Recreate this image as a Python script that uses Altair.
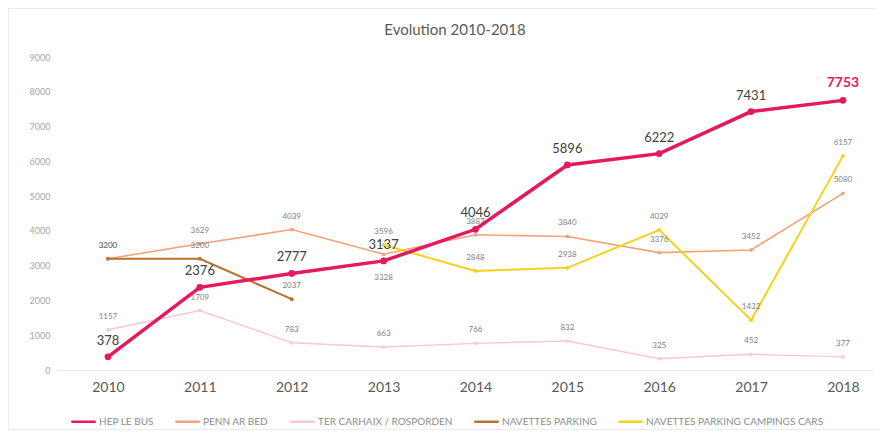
import altair as alt
import pandas as pd

years = [2010, 2011, 2012, 2013, 2014, 2015, 2016, 2017, 2018]
series_names = ["HEP LE BUS", "PENN AR BED", "TER CARHAIX / ROSPORDEN",
                "NAVETTES PARKING", "NAVETTES PARKING CAMPINGS CARS"]
hep = [378, 2376, 2777, 3137, 4046, 5896, 6222, 7431, 7753]
penn = [3200, 3629, 4039, 3328, 3887, 3840, 3376, 3452, 5080]
ter = [1157, 1709, 783, 663, 766, 832, 325, 452, 377]
navettes = [3200, 3200, 2037, None, None, None, None, None, None]
campings = [None, None, None, 3596, 2848, 2938, 4029, 1432, 6157]
title_text = "Evolution 2010-2018"
colors = ["#E6185E", "#F2A27C", "#F8C8D4", "#B8702E", "#F5D21A"]
widths = [3.5, 1.6, 1.4, 2, 2]

values = [hep, penn, ter, navettes, campings]
rows = []
for name, vals in zip(series_names, values):
    for y, v in zip(years, vals):
        if v is not None:
            rows.append({"year": y, "value": v, "series": name})
df = pd.DataFrame(rows)

x_scale = alt.Scale(domain=[2009.456, 2018.327], nice=False, zero=False)
y_scale = alt.Scale(domain=[0, 9000], nice=False)
color_scale = alt.Scale(domain=series_names, range=colors)

legend = alt.Legend(
    orient="none", legendX=12, legendY=351, direction="horizontal",
    title=None, symbolType="stroke", symbolSize=600, symbolStrokeWidth=2.5,
    labelFontSize=10, labelColor="#8C8C8C", labelFont="Lato", labelLimit=300,
    columnPadding=16, labelOffset=2, values=series_names,
)
color_enc = alt.Color("series:N", scale=color_scale, legend=legend)

base = alt.Chart(df)

layers = []
# border of the chart and the title
deco = alt.Chart(pd.DataFrame({"t": [title_text]}))
layers.append(
    deco.mark_rect(fill=None, stroke="#D9D9D9", strokeWidth=1)
    .encode(x=alt.value(-50), x2=alt.value(821), y=alt.value(-49), y2=alt.value(373))
)
layers.append(
    deco.mark_text(fontSize=15, color="#595959", font="Lato", baseline="middle")
    .encode(x=alt.value(397), y=alt.value(-27), text="t:N")
)

x_enc = alt.X("year:Q", scale=x_scale, axis=alt.Axis(
    values=years, format="d", title=None, labelFontSize=14, labelColor="#595959",
    labelFont="Lato", ticks=False, domainColor="#E6E6E6", grid=False, labelPadding=10,
    labelOverlap=False))
y_enc = alt.Y("value:Q", scale=y_scale, axis=alt.Axis(
    values=list(range(0, 9001, 1000)), format="d", title=None, labelFontSize=9,
    labelColor="#A6A6A6", labelFont="Lato", ticks=False, domain=False, grid=False,
    labelPadding=8, labelOverlap=False))

draw_order = [2, 1, 3, 4, 0]
for i in draw_order:
    name = series_names[i]
    sub = base.transform_filter(alt.datum.series == name)
    line = sub.mark_line(strokeWidth=widths[i]).encode(x=x_enc, y=y_enc, color=color_enc)
    pts = sub.mark_point(filled=True, size=(45 if i == 0 else 14), opacity=1).encode(
        x=x_enc, y=y_enc, color=color_enc)
    layers += [line, pts]

# value labels
hep_df = df[df.series == "HEP LE BUS"]
lab_hep = alt.Chart(hep_df[hep_df.year < 2018]).mark_text(
    dy=-16, fontSize=13, color="#404040", font="Lato").encode(
    x=x_enc, y=y_enc, text="value:Q")
lab_last = alt.Chart(hep_df[hep_df.year == 2018]).mark_text(
    dy=-17, fontSize=14, fontWeight="bold", color="#E6185E", font="Lato").encode(
    x=x_enc, y=y_enc, text="value:Q")

small = df[df.series != "HEP LE BUS"]
below = (small.series == "PENN AR BED") & (small.year == 2013)
lab_small = alt.Chart(small[~below]).mark_text(
    dy=-13, fontSize=8, color="#7F7F7F", font="Lato").encode(
    x=x_enc, y=y_enc, text="value:Q")
lab_below = alt.Chart(small[below]).mark_text(
    dy=24, fontSize=8, color="#7F7F7F", font="Lato").encode(
    x=x_enc, y=y_enc, text="value:Q")

layers += [lab_small, lab_below, lab_hep, lab_last]

chart = alt.layer(*layers).properties(
    width=815, height=313,
    autosize=alt.AutoSizeParams(type="none"),
    padding={"left": 50, "top": 49, "right": 5, "bottom": 60},
).configure_view(stroke=None)

chart.save("out.html", embed_options={"renderer": "svg", "actions": False})
